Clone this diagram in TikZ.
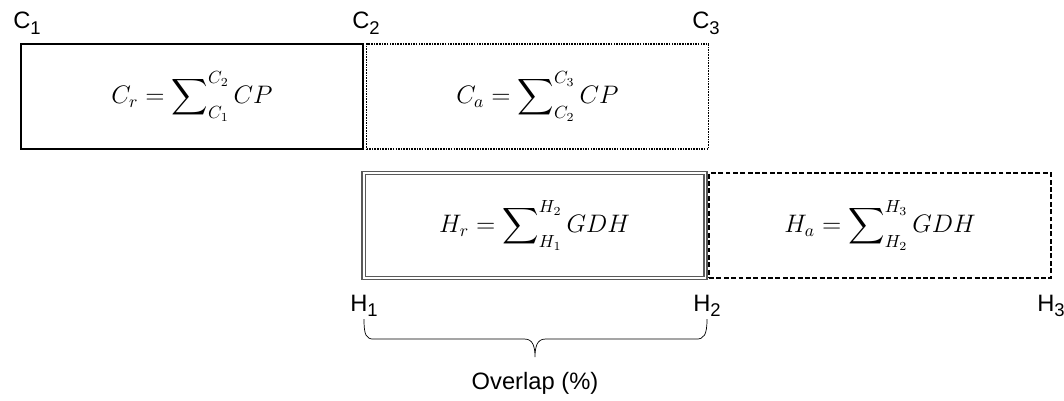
\documentclass[tikz,border=0pt]{standalone}
\usepackage{amsmath}
\usepackage[no-math]{fontspec}
\setmainfont{Liberation Sans}

\newcommand{\lsub}[1]{\raisebox{-0.45ex}{\fontsize{10.5}{12}\selectfont #1}}

\begin{document}
\begin{tikzpicture}[x=0.02cm, y=-0.02cm, font=\fontsize{13.5}{15}\selectfont,
  bx/.style={draw, minimum width=6.84cm, minimum height=2.1cm, inner sep=0pt,
    line width=0.8pt, font=\fontsize{14}{16}\selectfont},
  lbl/.style={inner sep=1pt}]
  \useasboundingbox (0,0) rectangle (1064,401);

  \node[bx] (cr) at (192,96.5)  {$\displaystyle C_r = \sum\nolimits_{C_1}^{C_2} CP$};
  \node[bx, dash pattern=on 0.9pt off 0.6pt] (ca) at (537.5,96.5) {$\displaystyle C_a = \sum\nolimits_{C_2}^{C_3} CP$};
  \node[bx, draw=gray!70!black, line width=0.7pt, double, double distance=1.1pt] (hr) at (534.5,225.5) {$\displaystyle H_r = \sum\nolimits_{H_1}^{H_2} GDH$};
  \node[bx, dash pattern=on 2.8pt off 1.4pt] (ha) at (880,225.5) {$\displaystyle H_a = \sum\nolimits_{H_2}^{H_3} GDH$};

  \node[lbl] (c1) at (27,23)   {C\lsub{1}};
  \node[lbl] (c2) at (366,23)  {C\lsub{2}};
  \node[lbl] (c3) at (706,23)  {C\lsub{3}};
  \node[lbl] (h1) at (364,306) {H\lsub{1}};
  \node[lbl] (h2) at (707,306) {H\lsub{2}};
  \node[lbl] (h3) at (1051,306) {H\lsub{3}};

  \draw (h1.south) .. controls +(0,16) and +(-8,0) .. ++(10,20) -- ++(151,0)
    .. controls +(8,0) and +(0,-10) .. ++(10,18) .. controls +(0,-10) and +(-8,0) .. ++(10,-18)
    -- ++(151,0) .. controls +(8,0) and +(0,16) .. (h2.south);
  \node[lbl] (ovl) at (535,383) {Overlap (\%)};
\end{tikzpicture}
\end{document}
